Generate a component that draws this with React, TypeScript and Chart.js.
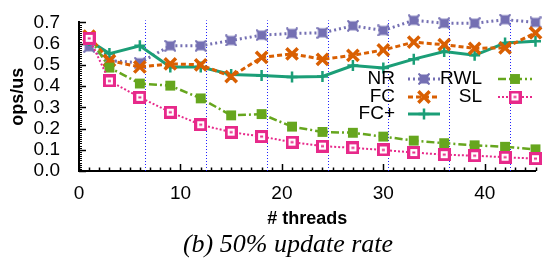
import React, { useEffect, useRef } from "react";
import { Chart, registerables } from "chart.js";
import { drawPoint } from "chart.js/helpers";

Chart.register(...registerables);

const threads = [1, 3, 6, 9, 12, 15, 18, 21, 24, 27, 30, 33, 36, 39, 42, 45];
const nrValues = [0.585, 0.52, 0.51, 0.59, 0.59, 0.615, 0.64, 0.648, 0.651, 0.684, 0.662, 0.71, 0.696, 0.696, 0.713, 0.7];
const fcValues = [0.635, 0.52, 0.49, 0.505, 0.5, 0.445, 0.535, 0.552, 0.526, 0.545, 0.57, 0.607, 0.595, 0.578, 0.58, 0.651];
const fcPlusValues = [0.615, 0.553, 0.59, 0.49, 0.49, 0.455, 0.45, 0.443, 0.445, 0.497, 0.485, 0.527, 0.563, 0.545, 0.603, 0.611];
const rwlValues = [0.63, 0.487, 0.412, 0.402, 0.342, 0.262, 0.268, 0.209, 0.184, 0.18, 0.162, 0.143, 0.131, 0.121, 0.114, 0.102];
const slValues = [0.625, 0.424, 0.347, 0.277, 0.218, 0.183, 0.162, 0.136, 0.117, 0.109, 0.099, 0.087, 0.077, 0.072, 0.065, 0.058];
const xTickLabels = [0, 10, 20, 30, 40];
const yTickLabels = [0, 0.1, 0.2, 0.3, 0.4, 0.5, 0.6, 0.7];
const socketLines = [6.5, 12.5, 18.5, 24.5, 30.5, 36.5, 42.5];

const PURPLE = "#7570b3";
const ORANGE = "#d95f02";
const TEAL = "#1b9e77";
const GREEN = "#66a61e";
const PINK = "#e7298a";
const SANS = "'Liberation Sans', Arial, sans-serif";

function makeNRMarker() {
  const c = document.createElement("canvas");
  c.width = 12; c.height = 12;
  const g = c.getContext("2d")!;
  g.fillStyle = PURPLE;
  g.fillRect(1.5, 1.5, 9, 9);
  g.strokeStyle = PURPLE;
  g.lineWidth = 2;
  g.beginPath();
  g.moveTo(0.5, 0.5); g.lineTo(11.5, 11.5);
  g.moveTo(11.5, 0.5); g.lineTo(0.5, 11.5);
  g.stroke();
  return c;
}

function makeSLMarker() {
  const c = document.createElement("canvas");
  c.width = 13; c.height = 13;
  const g = c.getContext("2d")!;
  g.fillStyle = PINK;
  g.fillRect(0, 0, 13, 13);
  g.fillStyle = "#ffffff";
  g.fillRect(3, 3, 7, 7);
  g.fillStyle = PINK;
  g.fillRect(5, 5.5, 3, 2);
  return c;
}

export default function App() {
  const ref = useRef<HTMLCanvasElement | null>(null);

  useEffect(() => {
    document.body.style.margin = "0";
    const nrMarker = makeNRMarker();
    const slMarker = makeSLMarker();

    const series = [
      { label: "NR", data: nrValues, color: PURPLE, dash: [2, 3], width: 3, style: nrMarker as any, radius: 6, pbw: 0, order: 5, fill: PURPLE },
      { label: "FC", data: fcValues, color: ORANGE, dash: [5, 3], width: 3, style: "crossRot", radius: 8, pbw: 3.5, order: 3, fill: ORANGE },
      { label: "FC+", data: fcPlusValues, color: TEAL, dash: [], width: 3, style: "cross", radius: 5.5, pbw: 2.5, order: 4, fill: TEAL },
      { label: "RWL", data: rwlValues, color: GREEN, dash: [8, 3, 2, 3], width: 2.5, style: "rect", radius: 7, pbw: 0, order: 2, fill: GREEN },
      { label: "SL", data: slValues, color: PINK, dash: [2, 2], width: 2, style: slMarker as any, radius: 7, pbw: 0, order: 1, fill: PINK },
    ];

    const legendLayout = [
      { textRight: 395, lineL: 408, lineR: 440, y: 79 },
      { textRight: 395, lineL: 408, lineR: 440, y: 97 },
      { textRight: 395, lineL: 408, lineR: 440, y: 114 },
      { textRight: 482, lineL: 498, lineR: 532, y: 79 },
      { textRight: 482, lineL: 498, lineR: 532, y: 97 },
    ];

    const decor = {
      id: "decor",
      beforeDatasetsDraw(chart: any) {
        const ctx = chart.ctx;
        const xs = chart.scales.x;
        const ys = chart.scales.y;
        const { top, bottom, left } = chart.chartArea;
        ctx.save();
        ctx.strokeStyle = "#2222ff";
        ctx.lineWidth = 1;
        ctx.setLineDash([1, 2]);
        socketLines.forEach((v) => {
          const px = Math.round(xs.getPixelForValue(v)) + 0.5;
          ctx.beginPath();
          ctx.moveTo(px, bottom);
          ctx.lineTo(px, top - 2);
          ctx.stroke();
        });
        ctx.setLineDash([]);
        ctx.strokeStyle = "#000";
        ctx.lineWidth = 1.5;
        for (let v = 0; v <= 45; v++) {
          const px = Math.round(xs.getPixelForValue(v)) + 0.5;
          const len = v % 10 === 0 ? 7 : 3.5;
          ctx.beginPath();
          ctx.moveTo(px, bottom);
          ctx.lineTo(px, bottom - len);
          ctx.stroke();
        }
        for (let i = 0; i <= 70; i++) {
          const py = Math.round(ys.getPixelForValue(i / 100)) + 0.5;
          const len = i % 10 === 0 ? 7 : 3;
          ctx.lineWidth = i % 10 === 0 ? 1.5 : 1;
          ctx.beginPath();
          ctx.moveTo(left, py);
          ctx.lineTo(left + len, py);
          ctx.stroke();
        }
        ctx.restore();
      },
      afterDraw(chart: any) {
        const ctx = chart.ctx;
        ctx.save();
        ctx.font = "19px " + SANS;
        ctx.textBaseline = "middle";
        ctx.textAlign = "right";
        series.forEach((s, i) => {
          const L = legendLayout[i];
          ctx.fillStyle = "#000";
          ctx.fillText(s.label, L.textRight, L.y);
          ctx.strokeStyle = s.color;
          ctx.lineWidth = s.width;
          ctx.setLineDash(s.dash);
          ctx.beginPath();
          ctx.moveTo(L.lineL, L.y);
          ctx.lineTo(L.lineR, L.y);
          ctx.stroke();
          ctx.setLineDash([]);
          ctx.fillStyle = s.fill;
          ctx.strokeStyle = s.color;
          ctx.lineWidth = s.pbw;
          drawPoint(ctx, { pointStyle: s.style, radius: s.radius, rotation: 0, borderWidth: s.pbw } as any, (L.lineL + L.lineR) / 2, L.y);
        });
        ctx.fillStyle = "#000";
        ctx.textAlign = "center";
        ctx.font = "bold 18px " + SANS;
        const { left, right, top, bottom } = chart.chartArea;
        ctx.fillText("# threads", (left + right) / 2, 219);
        ctx.save();
        ctx.translate(18, (top + bottom) / 2);
        ctx.rotate(-Math.PI / 2);
        ctx.fillText("ops/us", 0, 0);
        ctx.restore();
        ctx.font = "italic 26px 'Liberation Serif', 'Times New Roman', serif";
        ctx.fillText("(b) 50% update rate", 288, 245);
        ctx.restore();
      },
    };

    const chart = new Chart(ref.current!, {
      type: "line",
      data: {
        labels: threads,
        datasets: series.map((s) => ({
          label: s.label,
          data: threads.map((t, i) => ({ x: t, y: s.data[i] })),
          borderColor: s.color,
          backgroundColor: s.fill,
          borderWidth: s.width,
          borderDash: s.dash,
          pointStyle: s.style,
          pointRadius: s.radius,
          pointBorderWidth: s.pbw,
          pointBorderColor: s.color,
          pointBackgroundColor: s.fill,
          tension: 0,
          clip: false as any,
          order: s.order,
        })),
      },
      options: {
        animation: false,
        responsive: false,
        events: [],
        layout: { padding: { left: 0, right: 4, top: 12, bottom: 0 } },
        plugins: { legend: { display: false }, tooltip: { enabled: false } },
        scales: {
          x: {
            type: "linear",
            min: 0,
            max: 45,
            afterBuildTicks: (scale: any) => {
              scale.ticks = xTickLabels.map((v) => ({ value: v }));
            },
            afterFit: (scale: any) => {
              scale.height = 90;
            },
            grid: { display: false },
            border: { display: true, color: "#000", width: 2 },
            ticks: {
              padding: 3,
              autoSkip: false,
              color: "#000",
              font: { family: SANS, size: 19 },
              maxRotation: 0,
              callback: (v: any) => String(v),
            },
          },
          y: {
            type: "linear",
            min: 0,
            max: 0.7,
            afterBuildTicks: (scale: any) => {
              scale.ticks = yTickLabels.map((v) => ({ value: v }));
            },
            afterFit: (scale: any) => {
              scale.width = 79;
            },
            grid: { display: false },
            border: { display: true, color: "#000", width: 2 },
            ticks: {
              padding: 11,
              autoSkip: false,
              color: "#000",
              font: { family: SANS, size: 19 },
              callback: (v: any) => Number(v).toFixed(1),
            },
          },
        },
      },
      plugins: [decor],
    });
    return () => chart.destroy();
  }, []);

  return (
    <div style={{ position: "fixed", left: 0, top: 0, width: 547, height: 261, background: "#fff" }}>
      <canvas ref={ref} width={547} height={261} style={{ width: 547, height: 261 }} />
    </div>
  );
}
